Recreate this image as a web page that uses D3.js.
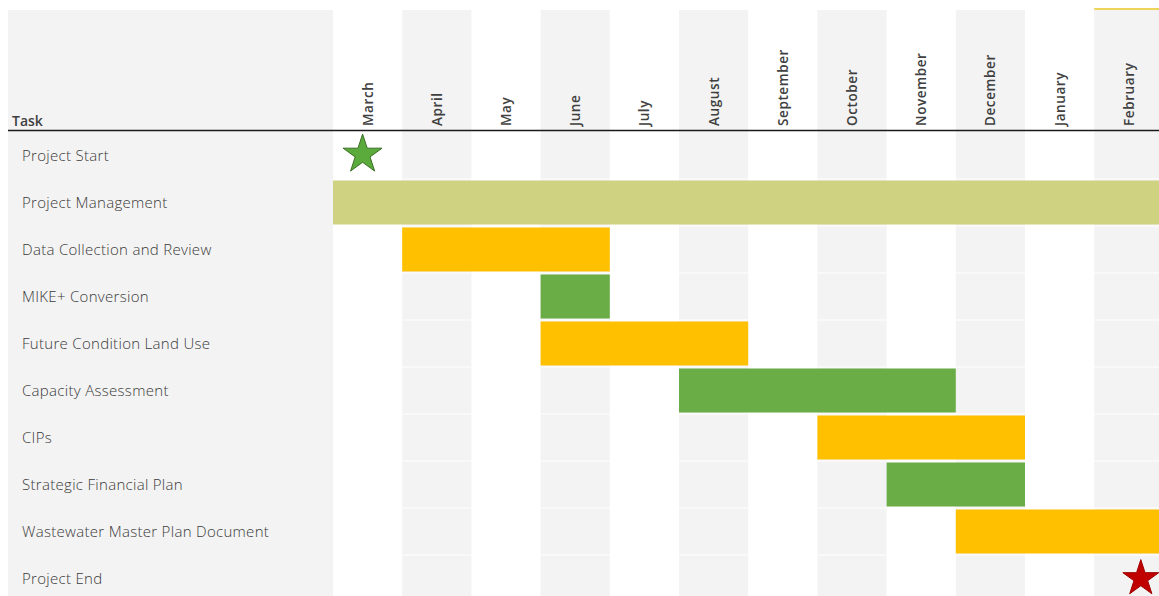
<!DOCTYPE html>
<html><head><meta charset="utf-8">
<script src="https://cdn.jsdelivr.net/npm/d3@7/dist/d3.min.js"></script>
<style>body{margin:0;background:#fff;overflow:hidden}svg{display:block}</style>
</head><body>
<svg id="c" width="1159" height="596"></svg>
<script>
const months = ["March","April","May","June","July","August","September","October","November","December","January","February"];
const tasks = ["Project Start","Project Management","Data Collection and Review","MIKE+ Conversion","Future Condition Land Use","Capacity Assessment","CIPs","Strategic Financial Plan","Wastewater Master Plan Document","Project End"];
// start and end month (inclusive) for each bar task
const barTasks = ["Project Management","Data Collection and Review","MIKE+ Conversion","Future Condition Land Use","Capacity Assessment","CIPs","Strategic Financial Plan","Wastewater Master Plan Document"];
const barStart = ["March","April","June","June","August","October","November","December"];
const barEnd   = ["February","June","June","August","November","December","December","February"];
const barKind  = ["pm","yellow","green","yellow","green","yellow","green","yellow"];
const milestones = ["Project Start","Project End"];
const milestoneMonth = ["March","February"];
const milestoneKind = ["start","end"];

const colors = {pm:"#cfd280", yellow:"#ffc000", green:"#6aac46"};

const svg = d3.select("#c");
const x = d3.scaleBand().domain(months).range([333, 333 + 12*69.2]).padding(0);
const y = d3.scaleBand().domain(tasks).range([132, 132 + 10*47]).padding(0);

// left label panel
svg.append("rect").attr("x",8).attr("y",10).attr("width",325).attr("height",586).attr("fill","#f3f3f3");

// alternating month columns
svg.selectAll("rect.col").data(months.filter((m,i)=>i%2===1)).join("rect")
  .attr("class","col").attr("x",d=>x(d)).attr("y",10).attr("width",x.bandwidth()).attr("height",586)
  .attr("fill","#f3f3f3");

// faint row separators in shaded columns
months.filter((m,i)=>i%2===1).forEach(m=>{
  svg.selectAll(null).data(tasks.slice(1)).join("line")
    .attr("x1",x(m)).attr("x2",x(m)+x.bandwidth())
    .attr("y1",d=>y(d)).attr("y2",d=>y(d))
    .attr("stroke","#fbfbfb").attr("stroke-width",1.5);
});

// yellow marker at top of last column
svg.append("line").attr("x1",x("February")).attr("x2",1159).attr("y1",9).attr("y2",9)
  .attr("stroke","#eed55a").attr("stroke-width",2);

// header line
svg.append("line").attr("x1",8).attr("x2",1159).attr("y1",130.5).attr("y2",130.5)
  .attr("stroke","#1a1a1a").attr("stroke-width",1.5);

// Task header
svg.append("text").attr("x",12).attr("y",126).text("Task")
  .attr("font-family","Open Sans, sans-serif").attr("font-size",14).attr("font-weight",600).attr("fill","#404040");

// month labels
svg.selectAll("text.m").data(months).join("text").attr("class","m")
  .attr("transform",d=>`translate(${x(d)+x.bandwidth()/2+5},126) rotate(-90)`)
  .attr("text-anchor","start").text(d=>d)
  .attr("letter-spacing",0.6)
  .attr("font-family","Open Sans, sans-serif").attr("font-size",13.5).attr("font-weight",600).attr("fill","#404040");

// task labels
svg.selectAll("text.t").data(tasks).join("text").attr("class","t")
  .attr("x",22).attr("y",d=>y(d)+y.bandwidth()/2+5).text(d=>d)
  .attr("letter-spacing",0.3)
  .attr("font-family","Open Sans, sans-serif").attr("font-size",15).attr("font-weight",300).attr("fill","#3a3a3a");

// bars
svg.selectAll("rect.bar").data(barTasks).join("rect").attr("class","bar")
  .attr("x",(d,i)=>x(barStart[i]))
  .attr("width",(d,i)=>x(barEnd[i])+x.bandwidth()-x(barStart[i]))
  .attr("y",d=>y(d)+1.5).attr("height",y.bandwidth()-3)
  .attr("fill",(d,i)=>colors[barKind[i]]);

// milestones
const star = d3.symbol().type(d3.symbolStar);
svg.selectAll("path.ms").data(milestones).join("path").attr("class","ms")
  .attr("transform",(d,i)=>`translate(${x(milestoneMonth[i])+x.bandwidth()/2 + (i===1?12:-5)},${y(d)+y.bandwidth()/2+ (i===0?-1:0)})`)
  .attr("d",(d,i)=>star.size(i===0?470:400)())
  .attr("fill",(d,i)=>milestoneKind[i]==="start"?"#5aab3c":"#c00000")
  .attr("stroke",(d,i)=>milestoneKind[i]==="start"?"#3a6f25":"#a00000")
  .attr("stroke-width",1);
</script>
</body></html>
